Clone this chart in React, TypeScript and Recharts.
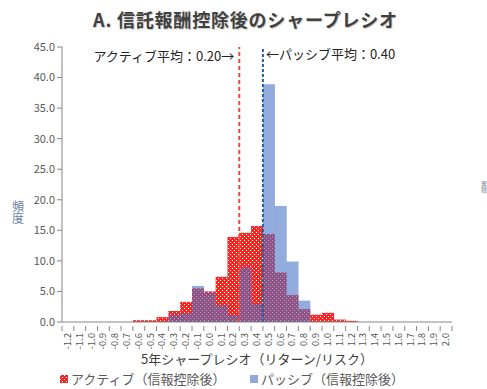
import React from 'react';
import {
  BarChart,
  Bar,
  XAxis,
  YAxis,
  ReferenceLine,
  Legend,
} from 'recharts';

// bins are labelled by their upper edge, e.g. "0.5" = (0.4, 0.5]
const bins = [
  '-1.2', '-1.1', '-1.0', '-0.9', '-0.8', '-0.7', '-0.6', '-0.5', '-0.4', '-0.3', '-0.2',
  '-0.1', '0.0', '0.1', '0.2', '0.3', '0.4', '0.5', '0.6', '0.7', '0.8', '0.9', '1.0',
  '1.1', '1.2', '1.3', '1.4', '1.5', '1.6', '1.7', '1.8', '1.9', '2.0',
];

const activeFreq = [
  0, 0, 0, 0, 0, 0, 0.3, 0.3, 0.8, 1.8, 3.3,
  5.5, 5.0, 7.4, 13.9, 14.6, 15.7, 14.4, 8.1, 4.4, 2.1, 1.2, 1.5,
  0.4, 0.2, 0, 0, 0, 0, 0, 0, 0, 0,
];

const passiveFreq = [
  0, 0, 0, 0, 0, 0, 0, 0, 0, 1.1, 1.4,
  5.9, 4.8, 2.7, 1.1, 8.9, 3.0, 38.9, 19.0, 9.9, 3.5, 0, 0,
  0, 0, 0, 0, 0, 0, 0, 0, 0, 0,
];

const yTicks = [0, 5, 10, 15, 20, 25, 30, 35, 40, 45];

const activeMean = 0.2;
const passiveMean = 0.4;

const FONT = '"Noto Sans CJK JP", "Noto Sans", sans-serif';
const W = 487;
const H = 389;
const PLOT_LEFT = 62;
const PLOT_RIGHT = 35;
const BAND = (W - PLOT_LEFT - PLOT_RIGHT) / bins.length;

const data = bins.map((bin, i) => ({
  bin,
  active: activeFreq[i],
  passive: passiveFreq[i],
}));

// a mean value sits on the lower edge of the bin labelled mean + 0.1
const binAbove = (v: number) => (v + 0.1).toFixed(1);

const BinTick = (props: any) => {
  const { x, y, payload, index } = props;
  const left = x - BAND / 2;
  return (
    <g>
      <line x1={left} y1={y - 4} x2={left} y2={y + 1} stroke="#868686" />
      {index === bins.length - 1 && (
        <line x1={left + BAND} y1={y - 4} x2={left + BAND} y2={y + 1} stroke="#868686" />
      )}
      <text
        x={x + 3}
        y={y + 3}
        transform={`rotate(-90, ${x + 3}, ${y + 3})`}
        textAnchor="end"
        fontSize={9.5}
        fill="#595959"
        fontFamily={FONT}
      >
        {payload.value}
      </text>
    </g>
  );
};

const verticalText = { writingMode: 'vertical-rl', textOrientation: 'upright' } as any;

const YTitle = () => (
  <g fontFamily={FONT}>
    <text x={18} y={200} fontSize={12} fill="#6d7fa3" style={verticalText}>
      頻度
    </text>
    <text x={484} y={181} fontSize={6} fill="#7a8a9a" style={verticalText}>
      累積
    </text>
  </g>
);

const HatchPattern = ({ id }: { id: string }) => (
  <pattern id={id} width={4} height={4} patternUnits="userSpaceOnUse">
    <rect width={4} height={4} fill="#ff2424" />
    <rect x={0} y={0} width={1} height={1} fill="#fff" />
    <rect x={2} y={2} width={1} height={1} fill="#fff" />
  </pattern>
);

const Swatch = ({ fill }: { fill: string }) => (
  <svg width={8} height={8} style={{ marginRight: 3 }}>
    <defs>
      <HatchPattern id="hatchIcon" />
    </defs>
    <rect width={8} height={8} fill={fill} />
  </svg>
);

const LegendContent = () => (
  <div
    style={{
      display: 'flex',
      alignItems: 'center',
      fontFamily: FONT,
      fontSize: 13,
      color: '#595959',
      whiteSpace: 'nowrap',
    }}
  >
    <span style={{ display: 'flex', alignItems: 'center', marginLeft: 60, width: 190 }}>
      <Swatch fill="url(#hatchIcon)" />
      アクティブ（信報控除後）
    </span>
    <span style={{ display: 'flex', alignItems: 'center' }}>
      <Swatch fill="#8fa9dc" />
      パッシブ（信報控除後）
    </span>
  </div>
);

export default function App() {
  return (
    <div style={{ position: 'absolute', left: 0, top: 0, width: W, height: H, background: '#fff' }}>
      <div
        style={{
          position: 'absolute',
          top: 6,
          left: 0,
          width: W,
          textAlign: 'center',
          fontFamily: FONT,
          fontWeight: 700,
          fontSize: 18,
          color: '#404040',
          letterSpacing: 0.8,
          textShadow: '1px 1px 1px rgba(0,0,0,0.2)',
          zIndex: 2,
          paddingLeft: 2,
        }}
      >
        A. 信託報酬控除後のシャープレシオ
      </div>
      <BarChart
        width={W}
        height={H}
        data={data}
        margin={{ top: 47, right: PLOT_RIGHT, left: 0, bottom: 7 }}
        barCategoryGap={0}
        barGap={0}
      >
        <defs>
          <HatchPattern id="hatch" />
        </defs>
        <XAxis
          xAxisId="a"
          dataKey="bin"
          interval={0}
          height={60}
          tickLine={false}
          axisLine={{ stroke: '#868686' }}
          tick={<BinTick />}
          label={{
            value: '5年シャープレシオ（リターン/リスク）',
            position: 'insideBottom',
            offset: 18,
            fontSize: 13,
            fill: '#404040',
            fontFamily: FONT,
          }}
        />
        <XAxis xAxisId="b" dataKey="bin" hide />
        <YAxis
          width={PLOT_LEFT}
          domain={[0, 45]}
          ticks={yTicks}
          interval={0}
          tickFormatter={(v: number) => v.toFixed(1)}
          tick={{ fontSize: 11, fill: '#595959', fontFamily: FONT }}
          axisLine={{ stroke: '#868686' }}
          tickLine={{ stroke: '#868686' }}
          tickSize={5}
          label={<YTitle />}
        />
        <Bar
          xAxisId="a"
          dataKey="active"
          fill="url(#hatch)"
          isAnimationActive={false}
        />
        <Bar
          xAxisId="b"
          dataKey="passive"
          fill="#4472c4"
          fillOpacity={0.58}
          isAnimationActive={false}
        />
        <ReferenceLine
          xAxisId="a"
          x={binAbove(activeMean)}
          position="start"
          stroke="#ff4040"
          strokeWidth={2}
          strokeDasharray="4 3"
          label={{
            value: `アクティブ平均：${activeMean.toFixed(2)}→`,
            position: 'insideTopRight',
            offset: 5,
            fontSize: 13,
            fill: '#222',
            fontFamily: FONT,
          }}
        />
        <ReferenceLine
          xAxisId="a"
          x={binAbove(passiveMean)}
          position="start"
          stroke="#1f5fa8"
          strokeWidth={2}
          strokeDasharray="3 2"
          label={{
            value: `←パッシブ平均：${passiveMean.toFixed(2)}`,
            position: 'insideTopLeft',
            offset: 3,
            fontSize: 13,
            fill: '#222',
            fontFamily: FONT,
          }}
        />
        <Legend
          layout="horizontal"
          verticalAlign="middle"
          align="center"
          content={<LegendContent />}
          wrapperStyle={{ top: 369, left: 0, width: W }}
        />
      </BarChart>
    </div>
  );
}
